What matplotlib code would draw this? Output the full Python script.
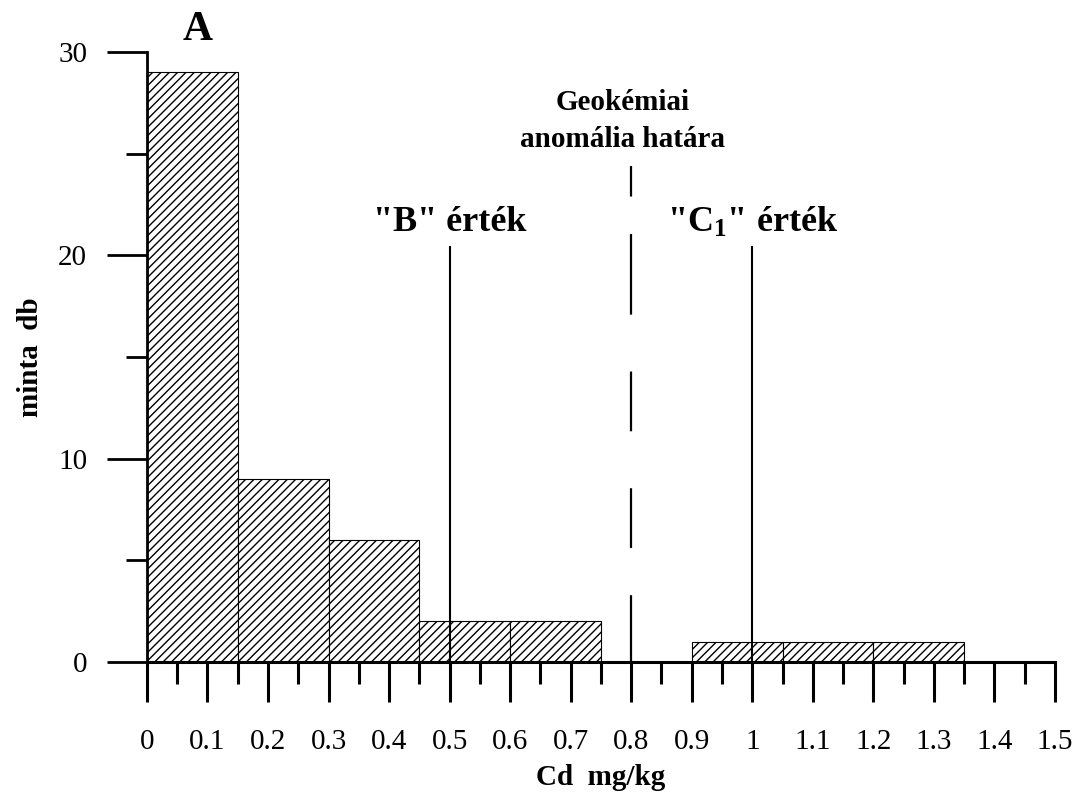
import numpy as np
import matplotlib
matplotlib.use('Agg')
import matplotlib.pyplot as plt

plt.rcParams['font.family'] = 'Liberation Serif'
plt.rcParams['mathtext.fontset'] = 'custom'
plt.rcParams['mathtext.rm'] = 'Liberation Serif:bold'
plt.rcParams['mathtext.it'] = 'Liberation Serif:bold'
plt.rcParams['mathtext.bf'] = 'Liberation Serif:bold'
plt.rcParams['hatch.linewidth'] = 1.0
plt.rcParams['lines.scale_dashes'] = False

## Données : histogramme Cd (mg/kg)
bal_bord = [0.0, 0.15, 0.30, 0.45, 0.60, 0.75, 0.90, 1.05, 1.20]
minta = [29, 9, 6, 2, 2, 0, 1, 1, 1]
largeur = 0.15

# limites réglementaires
B_ertek = 0.5
C1_ertek = 1.0
anomalia = 0.8

x_ticks = np.round(np.arange(0, 1.51, 0.1), 1)
x_labels = ['0', '0.1', '0.2', '0.3', '0.4', '0.5', '0.6', '0.7', '0.8', '0.9',
            '1', '1.1', '1.2', '1.3', '1.4', '1.5']
y_ticks = [0, 10, 20, 30]

fig = plt.figure(figsize=(10.83, 7.96), dpi=100)
ax = fig.add_axes([0.1357, 0.1683, 0.8384, 0.7663])

ax.bar(bal_bord, minta, width=largeur, align='edge', facecolor='white',
       edgecolor='black', linewidth=0.8, hatch='////', zorder=1)

# lignes verticales
ax.plot([B_ertek, B_ertek], [0, 20.4], color='black', lw=1.5, zorder=3)
ax.plot([C1_ertek, C1_ertek], [0, 20.4], color='black', lw=1.5, zorder=3)
ax.plot([anomalia, anomalia], [24.4, 0], color='black', lw=1.6,
        dashes=(22, 27, 58, 41, 43, 41, 43, 34, 70, 40), zorder=3)

ax.text(B_ertek, 21.6, '"B" érték', ha='center', va='center',
        fontsize=26, fontweight='bold')
ax.text(C1_ertek, 21.6, '"C$_1$" érték', ha='center', va='center',
        fontsize=26, fontweight='bold')
ax.text(0.785, 26.6, 'Geokémiai\nanomália határa', ha='center', va='center',
        fontsize=21, fontweight='bold', linespacing=1.45)
ax.text(0.083, 31.1, 'A', ha='center', va='center', fontsize=30,
        fontweight='bold', clip_on=False)

# axes
ax.set_xlim(0, 1.5)
ax.set_ylim(0, 30)
ax.spines['top'].set_visible(False)
ax.spines['right'].set_visible(False)
ax.spines['bottom'].set_linewidth(2.2)
ax.spines['left'].set_linewidth(2.0)
ax.spines['bottom'].set_zorder(4)
ax.spines['left'].set_zorder(4)

ax.set_xticks(x_ticks)
ax.set_xticklabels(x_labels)
ax.set_xticks(np.round(np.arange(0.05, 1.5, 0.1), 2), minor=True)
ax.set_yticks(y_ticks)
ax.set_yticks([5, 15, 25], minor=True)

ax.tick_params(axis='x', which='major', direction='out', length=29, width=2.2,
               pad=19, labelsize=21)
ax.tick_params(axis='x', which='minor', direction='out', length=16, width=2.2)
ax.tick_params(axis='y', which='major', direction='out', length=29, width=2.0,
               pad=14, labelsize=21)
ax.tick_params(axis='y', which='minor', direction='out', length=15, width=2.0)

ax.set_xlabel('Cd  mg/kg', fontsize=21, fontweight='bold', labelpad=7)
ax.set_ylabel('minta  db', fontsize=21, fontweight='bold', labelpad=10)

plt.savefig('out.png', dpi=100)
